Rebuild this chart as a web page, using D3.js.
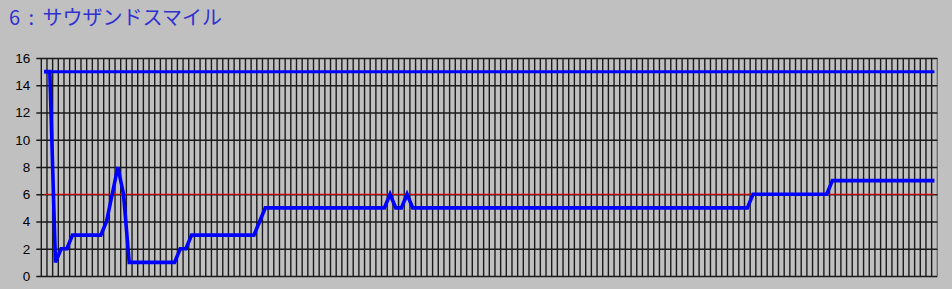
<!DOCTYPE html>
<html>
<head>
<meta charset="utf-8">
<script src="https://cdn.jsdelivr.net/npm/d3@7"></script>
<style>
  html, body { margin: 0; padding: 0; background: #c0c0c0; }
  svg { display: block; }
</style>
</head>
<body>
<svg id="chart" width="952" height="289"></svg>
<script>
// chart data
const title = "6 : サウザンドスマイル";
const yTicks = [0, 2, 4, 6, 8, 10, 12, 14, 16];

// rank per step (158 steps)
const rank = [
  15, 15, 1, 2, 2, 3, 3, 3, 3, 3,
  3, 4, 6, 8, 6, 1, 1, 1, 1, 1,
  1, 1, 1, 1, 2, 2, 3, 3, 3, 3,
  3, 3, 3, 3, 3, 3, 3, 3, 4, 5,
  5, 5, 5, 5, 5, 5, 5, 5, 5, 5,
  5, 5, 5, 5, 5, 5, 5, 5, 5, 5,
  5, 6, 5, 5, 6, 5, 5, 5, 5, 5,
  5, 5, 5, 5, 5, 5, 5, 5, 5, 5,
  5, 5, 5, 5, 5, 5, 5, 5, 5, 5,
  5, 5, 5, 5, 5, 5, 5, 5, 5, 5,
  5, 5, 5, 5, 5, 5, 5, 5, 5, 5,
  5, 5, 5, 5, 5, 5, 5, 5, 5, 5,
  5, 5, 5, 5, 5, 6, 6, 6, 6, 6,
  6, 6, 6, 6, 6, 6, 6, 6, 6, 7,
  7, 7, 7, 7, 7, 7, 7, 7, 7, 7,
  7, 7, 7, 7, 7, 7, 7, 7
];
const total = rank.map(() => 15);      // number of entries
const border = rank.map(() => 6);      // red reference level
const steps = rank.map((d, i) => i);

const svg = d3.select("#chart");
const margin = { top: 58, right: 14.7, bottom: 13, left: 41.3 };
const width = 952, height = 289;

const x = d3.scaleBand()
  .domain(steps)
  .range([margin.left, width - margin.right])
  .paddingInner(0)
  .paddingOuter(0);

const y = d3.scaleLinear()
  .domain([0, 16])
  .range([height - margin.bottom, margin.top]);

const cx = (i) => x(i) + x.bandwidth() / 2;

// title
svg.append("text")
  .attr("x", 9)
  .attr("y", 25)
  .attr("fill", "#3030d0")
  .style("font-family", "'Noto Sans CJK JP', sans-serif")
  .style("font-size", "20px")
  .style("white-space", "pre")
  .style("word-spacing", "4px")
  .text(title);

// vertical gridlines at category boundaries
const grid = svg.append("g").attr("stroke", "#1a1a1a").attr("stroke-width", 1.4);
grid.selectAll("line.v")
  .data(steps.concat([steps.length]))
  .join("line")
  .attr("class", "v")
  .attr("x1", (d) => d < steps.length ? x(d) : x.range()[1])
  .attr("x2", (d) => d < steps.length ? x(d) : x.range()[1])
  .attr("y1", y(16))
  .attr("y2", y(0))
  .attr("stroke", (d) => d === steps.length ? "#707070" : null);

// y axis with horizontal gridlines
const yAxis = d3.axisLeft(y)
  .tickValues(yTicks)
  .tickSize(-(x.range()[1] - x.range()[0]))
  .tickSizeOuter(0)
  .tickPadding(11);

const ya = svg.append("g")
  .attr("transform", `translate(${margin.left},0)`)
  .call(yAxis);
ya.select(".domain").remove();
ya.selectAll(".tick line")
  .attr("x1", -5)
  .attr("stroke", "#1a1a1a")
  .attr("stroke-width", 1.4);
ya.selectAll(".tick text")
  .attr("fill", "#000")
  .style("font-family", "'Liberation Sans', Arial, sans-serif")
  .style("font-size", "13.5px");

const line = d3.line()
  .x((d, i) => cx(i))
  .y((d) => y(d));

// red level line
svg.append("path")
  .datum(border)
  .attr("fill", "none")
  .attr("stroke", "#ff0000")
  .attr("stroke-width", 1.2)
  .attr("d", line);

// entries line
svg.append("path")
  .datum(total)
  .attr("fill", "none")
  .attr("stroke", "#0000ff")
  .attr("stroke-width", 3)
  .attr("d", line);

// rank line
svg.append("path")
  .datum(rank)
  .attr("fill", "none")
  .attr("stroke", "#0000ff")
  .attr("stroke-width", 3.6)
  .attr("stroke-linejoin", "miter")
  .attr("d", line);
</script>
</body>
</html>
